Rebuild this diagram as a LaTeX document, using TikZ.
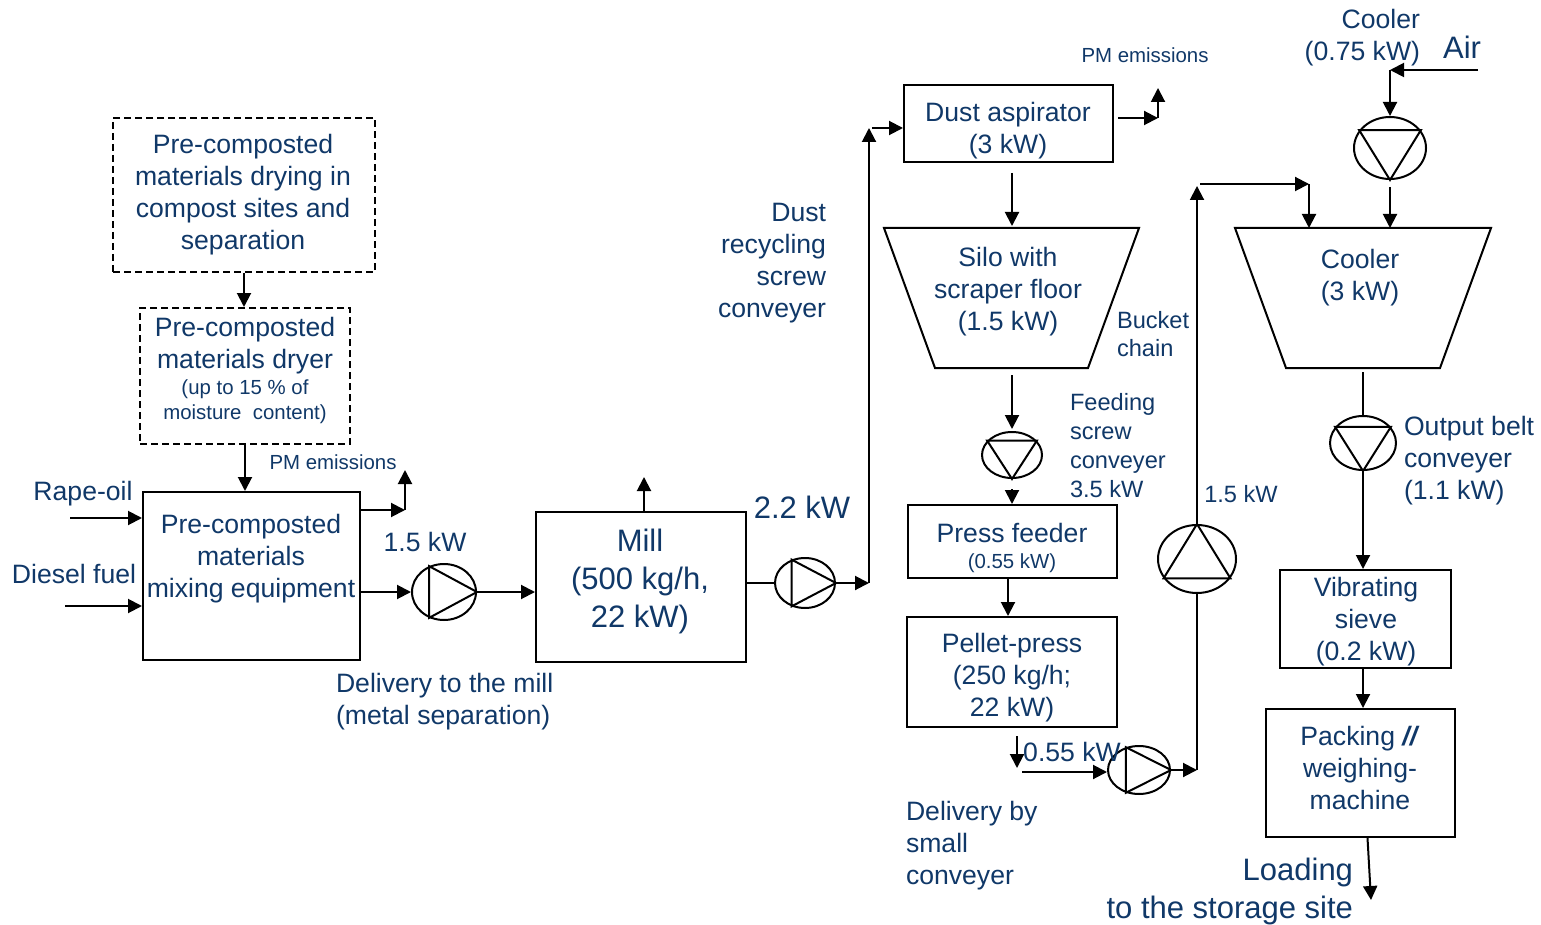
\documentclass[tikz,border=0pt]{standalone}
\usepackage{fontspec}
\setmainfont{Liberation Sans}
\usetikzlibrary{arrows.meta,shapes.geometric,calc}
\definecolor{tc}{RGB}{16,56,104}
\begin{document}
\begin{tikzpicture}[x=0.5pt,y=-0.5pt,
 line width=1pt,
 arr/.style={-{Triangle[length=7pt,width=7pt]}},
 box/.style={draw, rectangle, inner sep=0pt},
 dbox/.style={box, dash pattern=on 3.5pt off 2pt},
 pump/.style={draw, ellipse, inner sep=0pt},
 tb/.style={text=tc, align=center, inner sep=0pt, execute at begin node=\strut, execute at end node=\strut},
 txt/.style={tb, font=\fontsize{13.3}{16}\selectfont, yshift=-1.6pt},
 stxt/.style={tb, font=\fontsize{10.2}{12.5}\selectfont, yshift=-1.2pt},
 mtxt/.style={tb, font=\fontsize{11.8}{14.4}\selectfont, yshift=-1.4pt},
 btxt/.style={tb, font=\fontsize{15.5}{19}\selectfont, yshift=-1.8pt},
]
\useasboundingbox (0,0) rectangle (1541,925);

% boxes
\node[dbox, minimum width=131pt, minimum height=77pt] (dry1) at (244,195) {};
\node[dbox, minimum width=105pt, minimum height=68pt] (dry2) at (245,376) {};
\node[box, minimum width=108.5pt, minimum height=84pt] (mix) at (251.5,576) {};
\node[box, minimum width=105pt, minimum height=75pt] (mill) at (641,587) {};
\node[box, minimum width=104.5pt, minimum height=38.5pt] (asp) at (1008.5,123.5) {};
\node[box, minimum width=104.5pt, minimum height=36.5pt] (pfeed) at (1012.5,541.5) {};
\node[box, minimum width=105pt, minimum height=55pt] (pellet) at (1012,672) {};
\node[box, minimum width=85.5pt, minimum height=49pt] (sieve) at (1365.5,619) {};
\node[box, minimum width=94.5pt, minimum height=64pt] (pack) at (1360.5,773) {};

% trapezoids (silo, cooler)
\draw (884,228) -- (1139,228) -- (1088,368) -- (935,368) -- cycle;
\coordinate (silotop) at (1012,228);
\coordinate (silobot) at (1012,368);
\draw (1235,228) -- (1491,228) -- (1440,368) -- (1286,368) -- cycle;
\coordinate (coolA) at (1309,228);
\coordinate (coolB) at (1390,228);
\coordinate (coolbot) at (1364,368);

% pumps / conveyors
\node[pump, minimum width=32pt, minimum height=28pt] (p1) at (444,592) {};
\node[pump, minimum width=30pt, minimum height=25pt] (p2) at (805,583) {};
\node[pump, minimum width=30pt, minimum height=23pt] (p3) at (1012,455) {};
\node[pump, minimum width=31pt, minimum height=24pt] (p4) at (1139,770) {};
\node[pump, minimum width=39pt, minimum height=34pt] (p5) at (1197,559) {};
\node[pump, minimum width=36pt, minimum height=31pt] (p6) at (1390,148) {};
\node[pump, minimum width=33pt, minimum height=27pt] (p7) at (1363,443) {};
\foreach \p in {p1,p2,p4} \draw (\p.0) -- (\p.120) -- (\p.240) -- cycle;
\foreach \p in {p3,p6,p7} \draw (\p.270) -- (\p.30) -- (\p.150) -- cycle;
\draw (p5.90) -- (p5.210) -- (p5.330) -- cycle;

% connectors
\draw[arr] (dry1.south) -- (dry1.south |- dry2.north);
\draw[arr] (dry2.south) -- (dry2.south |- mix.north);
\coordinate (rin) at (70,518);
\draw[arr] (rin) -- (rin -| mix.west);
\coordinate (din) at (65,606);
\draw[arr] (din) -- (din -| mix.west);
\coordinate (pm1) at (405,510);
\coordinate (pm1top) at (405,470);
\draw[arr] (pm1 -| mix.east) -- (pm1);
\draw[arr] (pm1) -- (pm1top);
\draw[arr] (p1.west -| mix.east) -- (p1.west);
\draw[arr] (p1.east) -- (p1.east -| mill.west);
\coordinate (millup) at (644,477);
\draw[arr] (millup |- mill.north) -- (millup);
\draw (p2.west -| mill.east) -- (p2.west);
\coordinate (k2) at (869,128);
\draw[arr] (p2.east) -- (p2.east -| k2);
\draw[arr] (p2.east -| k2) -- (k2);
\draw[arr] ($(k2)+(3,0)$) -- (k2 -| asp.west);
\coordinate (pm2) at (1158,118);
\coordinate (pm2top) at (1158,88);
\draw[arr] ($(pm2 -| asp.east)+(4,0)$) -- (pm2);
\draw[arr] (pm2) -- (pm2top);
\draw[arr] ($(asp.south -| silotop)+(0,10)$) -- ($(silotop)+(0,-2)$);
\draw[arr] ($(silobot)+(0,7)$) -- ($(p3.north)+(0,-2)$);
\draw[arr] ($(p3.south)+(0,10)$) -- (p3.south |- pfeed.north);
\coordinate (kx) at (1008,600);
\draw[arr] (kx |- pfeed.south) -- (kx |- pellet.north);
\coordinate (k3) at (1017,768);
\draw[arr] ($(k3 |- pellet.south)+(0,8)$) -- (k3);
\coordinate (k4) at (1022,772);
\draw[arr] (k4) -- (k4 -| p4.west);
\coordinate (k5) at (1197,772);
\draw[arr] (p4.east) -- (p4.east -| k5);
\draw (p4.east -| k5) -- (p5.south);
\coordinate (k6) at (1197,186);
\draw[arr] (p5.north) -- (k6);
\coordinate (k7) at (1309,184);
\draw[arr] ($(k6)+(3,-2)$) -- (k7);
\draw[arr] (k7) -- (coolA);
\coordinate (airin) at (1478,70);
\coordinate (k9) at (1390,70);
\draw[arr] (airin) -- (k9);
\draw[arr] (k9) -- (p6.north);
\draw[arr] ($(p6.south)+(0,7)$) -- (coolB);
\draw ($(p7.north |- coolbot)+(0,4)$) -- (p7.north);
\draw[arr] (p7.south) -- (p7.south |- sieve.north);
\draw[arr] (p7.south |- sieve.south) -- (p7.south |- pack.north);
\coordinate (out) at (1371,900);
\draw[arr] ($(pack.south)+(7,0)$) -- (out);

% texts
\node[txt] (tdry1) at (243,193) {Pre-composted\\materials drying in\\compost sites and\\separation};
\node[txt] (tdry2a) at (245,344) {Pre-composted\\materials dryer};
\node[stxt] (tdry2b) at (245,400.5) {(up to 15 \% of\\moisture\ \ content)};
\node[txt] (tmix) at (251,557) {Pre-composted\\materials\\mixing equipment};
\node[stxt] (tpm1) at (333,462) {PM emissions};
\node[txt] (trape) at (83,491) {Rape-oil};
\node[txt] (tdiesel) at (74,574) {Diesel fuel};
\node[txt] (tkw1) at (425,542) {1.5 kW};
\node[txt, anchor=west, align=left] (tdeliv) at (335,700) {Delivery to the mill\\(metal separation)};
\node[btxt] (tmill) at (640,580) {Mill\\(500 kg/h,\\22 kW)};
\node[btxt] (tkw2) at (802,507) {2.2 kW};
\node[txt, anchor=east, align=right] (tdust) at (827,262) {Dust\\recycling\\screw\\conveyer};
\node[txt] (tasp) at (1008,129) {Dust aspirator\\(3 kW)};
\node[stxt] (tpm2) at (1145,55) {PM emissions};
\node[txt] (tsilo) at (1008,290) {Silo with\\scraper floor\\(1.5 kW)};
\node[mtxt, anchor=west, align=left] (tbucket) at (1116,335.5) {Bucket\\chain};
\node[mtxt, anchor=west, align=left] (tfeed) at (1069,447) {Feeding\\screw\\conveyer\\3.5 kW};
\node[txt] (tpf) at (1012,533) {Press feeder};
\node[stxt] (tpf2) at (1012,561) {(0.55 kW)};
\node[txt] (tpellet) at (1012,676) {Pellet-press\\(250 kg/h;\\22 kW)};
\node[txt] (tkw3) at (1072,752) {0.55 kW};
\node[mtxt] (tkw4) at (1241,494) {1.5 kW};
\node[txt, anchor=west, align=left] (tsmall) at (905,844) {Delivery by\\small\\conveyer};
\node[txt, anchor=east, align=right] (tcfan) at (1421,36) {Cooler\\(0.75 kW)};
\node[btxt] (tair) at (1462,47) {Air};
\node[txt] (tcool) at (1360,276) {Cooler\\(3 kW)};
\node[txt, anchor=west, align=left] (tbelt) at (1403,459) {Output belt\\conveyer\\(1.1 kW)};
\node[txt] (tsieve) at (1366,620) {Vibrating\\sieve\\(0.2 kW)};
\node[txt] (tpack) at (1360,769) {Packing \textbf{\textit{//}}\\weighing-\\machine};
\node[btxt, anchor=east, align=right] (tload) at (1354,890) {Loading\\to the storage site};
\end{tikzpicture}
\end{document}
